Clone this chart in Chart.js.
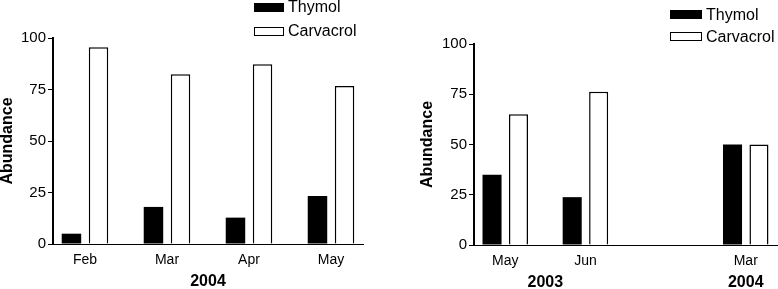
<!DOCTYPE html>
<html>
<head>
<meta charset="utf-8">
<script src="https://cdn.jsdelivr.net/npm/chart.js@4.4.1/dist/chart.umd.min.js"></script>
<style>
  html, body { margin: 0; padding: 0; background: #fff; }
  .panel { position: absolute; top: 0; }
</style>
</head>
<body>
<canvas id="left" class="panel" width="390" height="289" style="left:0"></canvas>
<canvas id="right" class="panel" width="388" height="289" style="left:390px"></canvas>
<script>
const seriesNames = ['Thymol', 'Carvacrol'];

// panel 1 (2004)
const leftMonths = ['Feb', 'Mar', 'Apr', 'May'];
const leftThymol = [5, 18, 12.8, 23.3];
const leftCarvacrol = [95.5, 82.4, 87.2, 76.7];
const leftYears = ['2004'];
const leftYearSpans = [[0, 3]];

// panel 2 (2003-2004), empty slot between Jun and Mar
const rightMonths = ['May', 'Jun', '', 'Mar'];
const rightThymol = [34.9, 23.8, null, 50];
const rightCarvacrol = [65.1, 76.2, null, 50];
const rightYears = ['2003', '2004'];
const rightYearSpans = [[0, 1], [3, 3]];

const FONT = "'Liberation Sans', Arial, Helvetica, sans-serif";

function toPoints(values) {
    return values.map((v, i) => ({ x: i, y: v })).filter(p => p.y !== null);
}

// stacked legend in the top right corner
const boxLegend = {
    id: 'boxLegend',
    afterDraw(chart, args, opts) {
        const ctx = chart.ctx;
        ctx.save();
        ctx.font = `16px ${FONT}`;
        ctx.textBaseline = 'middle';
        chart.data.datasets.forEach((ds, i) => {
            const cy = opts.y + i * opts.rowGap;
            const top = Math.round(cy - opts.boxHeight / 2);
            ctx.fillStyle = ds.backgroundColor;
            ctx.fillRect(opts.x, top, opts.boxWidth, opts.boxHeight);
            ctx.lineWidth = 1;
            ctx.strokeStyle = ds.borderColor;
            ctx.strokeRect(opts.x + 0.5, top + 0.5, opts.boxWidth - 1, opts.boxHeight - 1);
            ctx.fillStyle = '#000';
            ctx.fillText(ds.label, opts.x + opts.boxWidth + 4, cy + 1);
        });
        ctx.restore();
    }
};

function makeChart(id, months, thymol, carvacrol, years, spans, box) {
    const xMin = -0.39;
    const xMax = months.length - 1 + 0.39;

    return new Chart(document.getElementById(id), {
        type: 'bar',
        data: {
            datasets: [
                {
                    label: seriesNames[0],
                    data: toPoints(thymol),
                    backgroundColor: '#000',
                    borderColor: '#000',
                    borderWidth: 0
                },
                {
                    label: seriesNames[1],
                    data: toPoints(carvacrol),
                    backgroundColor: '#fff',
                    borderColor: '#000',
                    borderWidth: 1.5
                }
            ]
        },
        options: {
            responsive: false,
            animation: false,
            layout: { padding: box.padding },
            datasets: {
                bar: { categoryPercentage: 0.66, barPercentage: 0.72 }
            },
            plugins: {
                legend: { display: false },
                tooltip: { enabled: false },
                boxLegend: box.legend
            },
            scales: {
                x: {
                    type: 'linear',
                    min: xMin,
                    max: xMax,
                    offset: false,
                    weight: 0,
                    grid: { display: false, drawTicks: false },
                    border: { display: true, color: '#000', width: 1 },
                    afterBuildTicks: axis => {
                        axis.ticks = months.map((m, i) => ({ value: i }));
                    },
                    afterFit: axis => { axis.height = 25; },
                    ticks: {
                        autoSkip: false,
                        maxRotation: 0,
                        padding: 8,
                        color: '#000',
                        font: { family: FONT, size: 14 },
                        callback: (v, i) => months[i]
                    }
                },
                x2: {
                    type: 'linear',
                    position: 'bottom',
                    min: xMin,
                    max: xMax,
                    offset: false,
                    weight: 1,
                    grid: { display: false, drawTicks: false },
                    border: { display: false },
                    afterBuildTicks: axis => {
                        axis.ticks = spans.map(s => ({ value: (s[0] + s[1]) / 2 }));
                    },
                    afterFit: axis => { axis.height = box.yearHeight; },
                    ticks: {
                        autoSkip: false,
                        maxRotation: 0,
                        padding: 3,
                        color: '#000',
                        font: { family: FONT, size: 16, weight: 'bold' },
                        callback: (v, i) => years[i]
                    }
                },
                y: {
                    min: 0,
                    max: 100,
                    grid: { drawOnChartArea: false, tickLength: 5, color: '#000' },
                    border: { color: '#000', width: 2 },
                    ticks: {
                        stepSize: 25,
                        padding: 2,
                        color: '#000',
                        font: { family: FONT, size: 15 }
                    },
                    title: {
                        display: true,
                        text: 'Abundance',
                        color: '#000',
                        padding: 0,
                        font: { family: FONT, size: 16, weight: 'bold', lineHeight: 1 }
                    },
                    afterFit: axis => { axis.width = box.yWidth; }
                }
            }
        },
        plugins: [boxLegend]
    });
}

makeChart('left', leftMonths, leftThymol, leftCarvacrol, leftYears, leftYearSpans, {
    padding: { left: 0, right: 27, top: 38, bottom: 0 },
    yWidth: 53,
    yearHeight: 20,
    legend: { x: 254, y: 7, rowGap: 24, boxWidth: 30, boxHeight: 9 }
});

makeChart('right', rightMonths, rightThymol, rightCarvacrol, rightYears, rightYearSpans, {
    padding: { left: 30, right: 1, top: 44, bottom: 0 },
    yWidth: 54,
    yearHeight: 19,
    legend: { x: 280, y: 14.5, rowGap: 22, boxWidth: 32, boxHeight: 9 }
});
</script>
</body>
</html>
